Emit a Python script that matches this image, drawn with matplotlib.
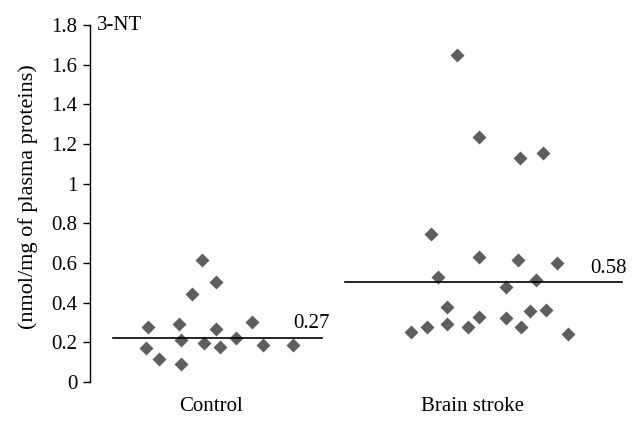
import matplotlib
matplotlib.use("Agg")
import matplotlib.pyplot as plt

categories = ["Control", "Brain stroke"]
category_pos = [1, 2]
yticks = [0, 0.2, 0.4, 0.6, 0.8, 1.0, 1.2, 1.4, 1.6, 1.8]
ytick_labels = ["0", "0.2", "0.4", "0.6", "0.8", "1", "1.2", "1.4", "1.6", "1.8"]

control_x = [0.762, 0.753, 0.803, 0.880, 0.887, 0.887, 0.930, 0.966,
             0.974, 1.020, 1.020, 1.036, 1.096, 1.158, 1.201, 1.314]
control_y = [0.276, 0.170, 0.114, 0.292, 0.212, 0.089, 0.444, 0.615,
             0.198, 0.506, 0.266, 0.178, 0.223, 0.303, 0.187, 0.187]

stroke_x = [1.767, 1.829, 1.843, 1.871, 1.906, 1.906, 1.941, 1.984,
            2.028, 2.028, 2.028, 2.130, 2.130, 2.177, 2.185, 2.186,
            2.222, 2.244, 2.272, 2.281, 2.324, 2.368]
stroke_y = [0.254, 0.279, 0.745, 0.531, 0.380, 0.291, 1.649, 0.279,
            1.237, 0.629, 0.329, 0.478, 0.324, 0.615, 1.131, 0.276,
            0.360, 0.514, 1.153, 0.363, 0.599, 0.240]

line_levels = [0.224, 0.506]
line_labels = ["0.27", "0.58"]
panel_label = "3-NT"
ylabel = "(nmol/mg of plasma proteins)"

plt.rcParams["font.family"] = ["Liberation Serif", "DejaVu Serif"]
fig = plt.figure(figsize=(6.4, 4.22), dpi=100)
ax = fig.add_axes([90/640, 1 - 382/422, 535/640, (382 - 25)/422])

mcolor = "#5e5e5e"
ax.plot(control_x, control_y, "D", ms=6.7, color=mcolor, mec="none")
ax.plot(stroke_x, stroke_y, "D", ms=6.7, color=mcolor, mec="none")

ax.plot([0.627, 1.426], [line_levels[0]] * 2, color="black", lw=1.2)
ax.plot([1.514, 2.574], [line_levels[1]] * 2, color="black", lw=1.2)
fs = 15
ax.text(1.315, 0.245, line_labels[0], fontsize=fs, ha="left", va="bottom")
ax.text(2.451, 0.523, line_labels[1], fontsize=fs, ha="left", va="bottom")
ax.text(0.565, 1.8, panel_label, fontsize=fs, ha="left", va="center")

ax.set_xlim(0.539, 2.585)
ax.set_ylim(0, 1.8)
ax.set_yticks(yticks)
ax.set_yticklabels(ytick_labels)
ax.set_xticks(category_pos)
ax.set_xticklabels(categories)
ax.tick_params(axis="y", direction="out", length=5, width=1, labelsize=fs, pad=4)
ax.tick_params(axis="x", length=0, labelsize=fs, pad=11)
for s in ["top", "right", "bottom"]:
    ax.spines[s].set_visible(False)
ax.spines["left"].set_linewidth(1)

fig.text(28/640, 1 - 196.5/422, ylabel, rotation=90, ha="center", va="center", fontsize=16)

fig.savefig("out.png", dpi=100)
